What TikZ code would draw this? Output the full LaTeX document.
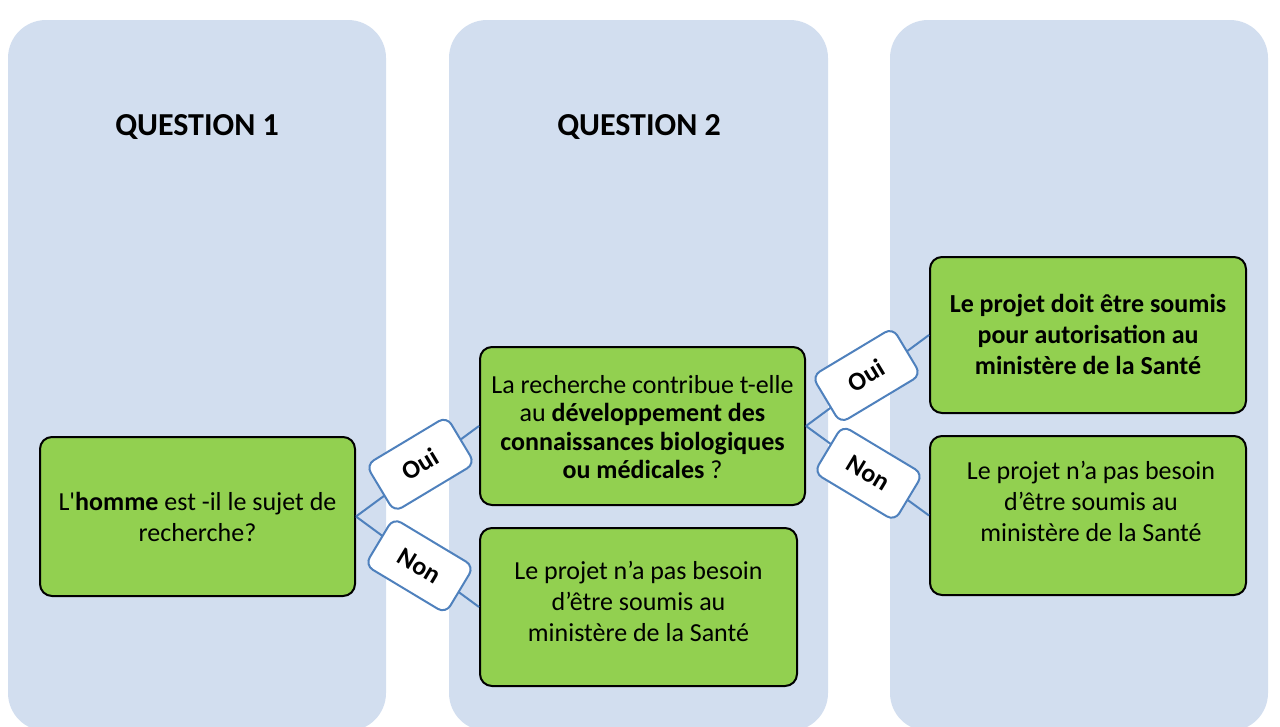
\documentclass[tikz,border=0pt]{standalone}
\usepackage{fontspec}
\setmainfont{Carlito}
\newfontfamily\rawfont{Carlito}
\definecolor{colbg}{HTML}{D2DEEF}
\definecolor{boxgreen}{HTML}{92D050}
\definecolor{linkblue}{HTML}{4F81BD}
\tikzset{
  column/.style={fill=colbg, draw=none, rounded corners=38pt},
  greenbox/.style={draw=black, line width=2pt, fill=boxgreen, rounded corners=12pt, inner sep=0pt},
  boxtext/.style={align=center, inner sep=0pt, font=\fontsize{26}{31}\selectfont},
  title/.style={font=\fontsize{32}{38}\selectfont\bfseries, inner sep=0pt},
  link/.style={draw=linkblue, line width=2pt},
  lab/.style={draw=linkblue, line width=2pt, fill=white, rounded corners=9pt,
    minimum width=94pt, minimum height=55pt, inner sep=0pt,
    font=\fontsize{26}{30}\selectfont\bfseries}
}
\begin{document}
\begin{tikzpicture}[x=1pt,y=-1pt]
\useasboundingbox (0,0) rectangle (1280,726);
\clip (0,0) rectangle (1280,726);
% columns
\path[column] (8,20) rectangle (386,731);
\path[column] (449,20) rectangle (828,731);
\path[column] (890,20) rectangle (1268,731);
% titles
\node[title] (t1) at (197,127) {QUESTION 1};
\node[title] (t2) at (639,127) {QUESTION 2};
% green boxes
\node[greenbox, minimum width=315pt, minimum height=159pt] (q1) at (197.5,516.5) {};
\node[greenbox, minimum width=325pt, minimum height=158pt] (q2) at (642.5,426) {};
\node[greenbox, minimum width=317pt, minimum height=158pt] (q2no) at (638.5,607) {};
\node[greenbox, minimum width=316pt, minimum height=156pt] (r1) at (1088,335) {};
\node[greenbox, minimum width=316pt, minimum height=159pt] (r2) at (1088,515.5) {};
% texts
\node[boxtext] (x1) at (q1.center) {L{\rawfont'}\textbf{homme} est -il le sujet de\\recherche?};
\node[boxtext, font=\fontsize{26}{28.3}\selectfont] (x2) at ([yshift=-1pt]q2.center) {La recherche contribue t-elle\\au \textbf{développement des}\\\textbf{connaissances biologiques}\\\textbf{ou médicales} ?};
\node[boxtext] (x3) at ([yshift=6pt]q2no.center) {Le projet n’a pas besoin\\d’être soumis au\\ministère de la Santé};
\node[boxtext, font=\fontsize{26}{31}\selectfont\bfseries] (x4) at ([yshift=1pt]r1.center) {Le projet doit être soumis\\pour autorisation au\\ministère de la Santé};
\node[boxtext] (x5) at ([yshift=14pt,xshift=3pt]r2.center) {Le projet n’a pas besoin\\d’être soumis au\\ministère de la Santé};
% connectors
\draw[link] (q1.east) -- node[lab, xshift=3pt, yshift=7pt, rotate=31] (l1) {Oui} (q2.west);
\draw[link] (q1.east) -- node[lab, xshift=2pt, yshift=-4pt, rotate=-31] (l2) {Non} (q2no.west);
\draw[link] (q2.east) -- node[lab, xshift=-1pt, yshift=5pt, rotate=31] (l3) {Oui} (r1.west);
\draw[link] (q2.east) -- node[lab, xshift=1pt, yshift=-2.5pt, rotate=-31] (l4) {Non} (r2.west);
\end{tikzpicture}
\end{document}
